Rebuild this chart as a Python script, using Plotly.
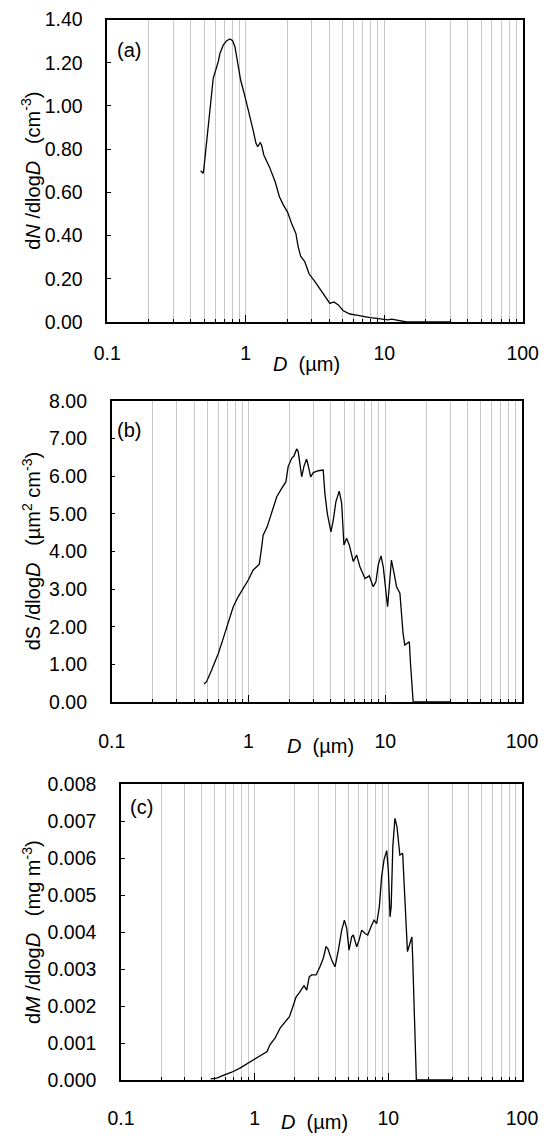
import plotly.graph_objects as go

# ---------------- data ----------------
D_a = [0.472, 0.493, 0.50, 0.536, 0.558, 0.582, 0.633, 0.651, 0.688, 0.728, 0.769, 0.804, 0.835,
       0.883, 0.918, 0.987, 1.06, 1.13, 1.185, 1.22, 1.27, 1.30, 1.35, 1.48, 1.63, 1.75, 1.87, 2.00,
       2.14, 2.30, 2.39, 2.49, 2.67, 2.87, 3.16, 3.53, 3.88, 4.05, 4.33, 4.66, 5.06, 5.65, 6.32, 7.05,
       7.88, 8.81, 9.84, 10.6, 11.3, 12.2, 13.3, 14.5, 30]
N_a = [0.700, 0.688, 0.719, 0.904, 1.043, 1.128, 1.205, 1.243, 1.282, 1.302, 1.310, 1.302, 1.274,
       1.181, 1.120, 1.043, 0.966, 0.888, 0.827, 0.811, 0.830, 0.819, 0.773, 0.719, 0.649, 0.580,
       0.541, 0.510, 0.457, 0.410, 0.349, 0.305, 0.279, 0.222, 0.187, 0.140, 0.102, 0.086, 0.093,
       0.079, 0.052, 0.037, 0.032, 0.025, 0.020, 0.017, 0.014, 0.010, 0.013, 0.008, 0.003, 0.0, 0.0]

D_b = [0.473, 0.494, 0.538, 0.602, 0.654, 0.693, 0.741, 0.774, 0.842, 0.916, 0.997, 1.08, 1.148,
       1.20, 1.25, 1.28, 1.37, 1.48, 1.61, 1.75, 1.88, 1.95, 2.07, 2.15, 2.25, 2.31, 2.45, 2.55,
       2.66, 2.73, 2.85, 2.98, 3.24, 3.52, 3.62, 3.77, 4.01, 4.17, 4.36, 4.61, 4.80, 4.99, 5.22,
       5.46, 5.84, 6.18, 6.53, 7.11, 7.64, 8.17, 8.55, 8.89, 9.31, 9.67, 10.4, 10.7, 11.1, 11.6,
       12.1, 12.8, 13.5, 13.9, 15.0, 15.3, 16.0, 30]
S_b = [0.48, 0.54, 0.85, 1.29, 1.69, 1.96, 2.31, 2.53, 2.80, 3.02, 3.24, 3.50, 3.61,
       3.66, 4.12, 4.43, 4.65, 5.01, 5.45, 5.67, 5.85, 6.25, 6.47, 6.53, 6.72, 6.65, 5.98, 6.27,
       6.45, 6.29, 5.98, 6.09, 6.14, 6.16, 5.54, 5.01, 4.52, 4.83, 5.32, 5.60, 5.28, 4.17, 4.35,
       4.17, 3.73, 3.90, 3.59, 3.28, 3.35, 3.06, 3.19, 3.64, 3.88, 3.59, 2.53, 3.06, 3.77, 3.42,
       3.06, 2.89, 1.82, 1.51, 1.60, 1.03, 0.0, 0.0]

D_c = [0.469, 0.520, 0.582, 0.673, 0.776, 0.895, 1.006, 1.13, 1.24, 1.30, 1.42, 1.55, 1.69, 1.82,
       1.93, 2.04, 2.16, 2.29, 2.34, 2.45, 2.56, 2.67, 2.88, 3.08, 3.26, 3.42, 3.52, 3.77, 3.99,
       4.23, 4.48, 4.69, 4.88, 5.08, 5.32, 5.47, 5.80, 6.04, 6.32, 6.69, 7.01, 7.51, 7.82, 8.19,
       8.56, 8.91, 9.28, 9.72, 10.0, 10.3, 10.5, 10.8, 11.2, 11.6, 12.2, 12.8, 13.3, 13.9, 14.5,
       15.0, 15.2, 15.6, 16.1, 16.2, 30]
M_c = [0.00003, 0.00005, 0.000126, 0.00021, 0.00032, 0.00045, 0.00056, 0.00068, 0.00077, 0.00095,
       0.00113, 0.0014, 0.00158, 0.00171, 0.00198, 0.00224, 0.00236, 0.00252, 0.00255, 0.00243,
       0.00279, 0.00284, 0.00284, 0.00306, 0.00329, 0.0036, 0.00356, 0.00324, 0.00306, 0.00351,
       0.00405, 0.00432, 0.0041, 0.00351, 0.00387, 0.00392, 0.0036, 0.00378, 0.00405, 0.00396,
       0.00392, 0.00419, 0.00432, 0.00423, 0.00468, 0.00549, 0.00595, 0.0062, 0.00568, 0.00441,
       0.00468, 0.0063, 0.00707, 0.00685, 0.00608, 0.00613, 0.00505, 0.00347, 0.00369, 0.00387,
       0.00333, 0.00189, 0.0003, 0.0, 0.0]

x_major = [0.1, 1, 10, 100]
x_major_text = ["0.1", "1", "10", "100"]
x_minor = [m * 10 ** e for e in (-1, 0, 1) for m in range(2, 10)]

panel_labels = ["(a)", "(b)", "(c)"]
y_titles = ["d<i>N</i> /dlog<i>D</i>\u00a0\u00a0 (cm<sup>-3</sup>)",
            "dS /dlog<i>D</i>\u00a0\u00a0 (µm<sup>2</sup> cm<sup>-3</sup>)",
            "d<i>M</i> /dlog<i>D</i>\u00a0\u00a0 (mg m<sup>-3</sup>)"]
x_title = "<i>D</i>\u00a0 (µm)"

# ---------------- layout geometry (pixels) ----------------
W, H = 545, 1140
FONT = "Liberation Sans, Arial, sans-serif"
TICK_SIZE = 19.5
TITLE_SIZE = 20
# left, right, top, bottom of each plot area
boxes = [(107.3, 522.7, 19.5, 322.0),
         (111.7, 522.0, 400.7, 702.0),
         (121.0, 522.0, 784.0, 1080.0)]
y_ranges = [[0, 1.4], [0, 8], [0, 0.008]]
y_dticks = [0.2, 1, 0.001]
y_formats = [".2f", ".2f", ".3f"]
xlab_standoff = [13, 21, 20]
xtitle_y = [364, 746, 1122]
xtitle_x = [306, 320, 314]
label_pos = [(115, 50), (115, 430), (128, 807)]

fig = go.Figure()
series = [(D_a, N_a), (D_b, S_b), (D_c, M_c)]
for i, (xs, ys) in enumerate(series):
    sfx = "" if i == 0 else str(i + 1)
    fig.add_trace(go.Scatter(x=xs, y=ys, mode="lines",
                             line=dict(color="black", width=1.3),
                             xaxis="x" + sfx, yaxis="y" + sfx, showlegend=False))

annotations = []
for i in range(3):
    l, r, t, b = boxes[i]
    sfx = "" if i == 0 else str(i + 1)
    xd = [l / W, r / W]
    yd = [1 - b / H, 1 - t / H]
    fig.update_layout(**{
        "xaxis" + sfx: dict(
            type="log", range=[-1, 2], domain=xd, anchor="y" + sfx, automargin=False,
            tickmode="array", tickvals=x_major, ticktext=x_major_text,
            ticks="inside", ticklen=7, tickcolor="black", tickwidth=1,
            showgrid=True, gridcolor="#c8c8c8", gridwidth=1,
            minor=dict(tickmode="array", tickvals=x_minor, ticks="inside", ticklen=3,
                       tickcolor="black", showgrid=True, gridcolor="#c8c8c8", gridwidth=1),
            showline=True, linecolor="black", linewidth=1.5, mirror=True,
            tickfont=dict(family=FONT, size=TICK_SIZE, color="black"),
            ticklabelstandoff=xlab_standoff[i], zeroline=False,
        ),
        "yaxis" + sfx: dict(
            range=y_ranges[i], domain=yd, anchor="x" + sfx, automargin=False,
            tickmode="linear", tick0=0, dtick=y_dticks[i], tickformat=y_formats[i],
            ticks="inside", ticklen=4, tickcolor="black",
            showgrid=False, zeroline=False,
            showline=True, linecolor="black", linewidth=1.5, mirror=True,
            tickfont=dict(family=FONT, size=TICK_SIZE, color="black"),
            ticklabelstandoff=19,
        ),
    })
    annotations.append(dict(text=y_titles[i], textangle=-90, x=31 / W, y=1 - (t + b) / 2 / H,
                            xref="paper", yref="paper", xanchor="center", yanchor="middle",
                            showarrow=False, font=dict(family=FONT, size=TITLE_SIZE, color="black")))
    annotations.append(dict(text=x_title, x=xtitle_x[i] / W, y=1 - xtitle_y[i] / H,
                            xref="paper", yref="paper", xanchor="center", yanchor="middle",
                            showarrow=False, font=dict(family=FONT, size=TITLE_SIZE, color="black")))
    lx, ly = label_pos[i]
    annotations.append(dict(text=panel_labels[i], x=lx / W, y=1 - ly / H,
                            xref="paper", yref="paper", xanchor="left", yanchor="middle",
                            showarrow=False, font=dict(family=FONT, size=TITLE_SIZE, color="black")))

fig.update_layout(width=W, height=H, margin=dict(l=0, r=0, t=0, b=0, autoexpand=False),
                  paper_bgcolor="white", plot_bgcolor="white",
                  annotations=annotations, showlegend=False)

fig.write_html("out.html", config={"displayModeBar": False},
               post_script="document.body.style.margin='0px';")
